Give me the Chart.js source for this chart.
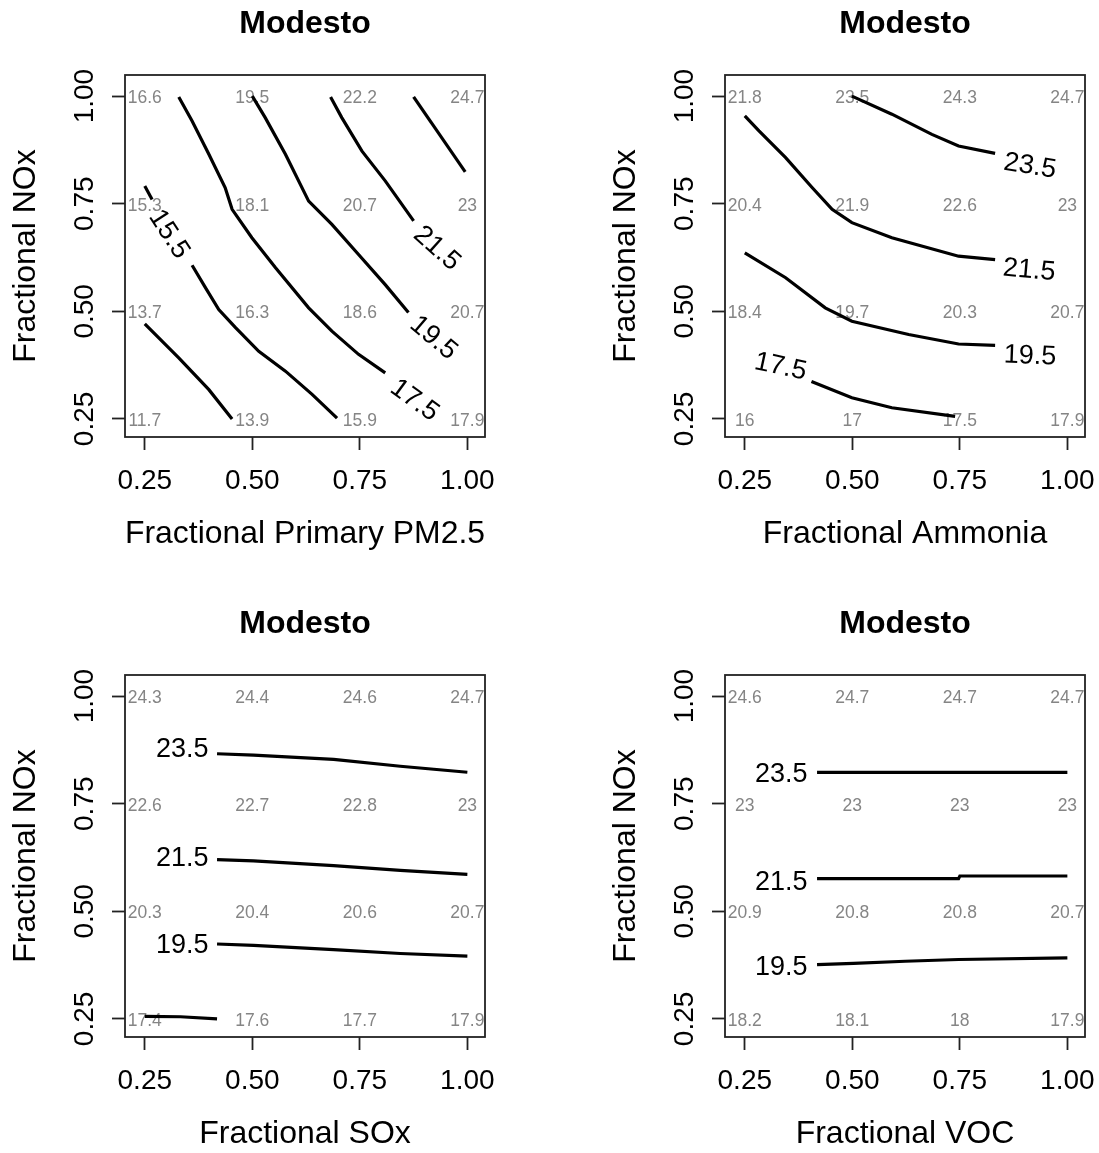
<!DOCTYPE html>
<html>
<head>
<meta charset="utf-8">
<script src="https://cdn.jsdelivr.net/npm/chart.js@4.4.1/dist/chart.umd.min.js"></script>
<style>
  body { margin: 0; background: #fff; }
  canvas.panel { position: absolute; }
</style>
</head>
<body>
<canvas id="pm25" class="panel" width="499" height="553" style="left:0;top:0"></canvas>
<canvas id="ammonia" class="panel" width="499" height="553" style="left:600px;top:0"></canvas>
<canvas id="sox" class="panel" width="499" height="553" style="left:0;top:600px"></canvas>
<canvas id="voc" class="panel" width="499" height="553" style="left:600px;top:600px"></canvas>
<script>
// grid where the model was run (both axes)
const gridX = [0.25, 0.5, 0.75, 1.0];
const gridY = [0.25, 0.5, 0.75, 1.0];
const tickLabels = ['0.25', '0.50', '0.75', '1.00'];

// grid values, one row per NOx level (0.25 -> 1.00)
const pm25Values = [[11.7, 13.9, 15.9, 17.9], [13.7, 16.3, 18.6, 20.7], [15.3, 18.1, 20.7, 23], [16.6, 19.5, 22.2, 24.7]];
const ammoniaValues = [[16, 17, 17.5, 17.9], [18.4, 19.7, 20.3, 20.7], [20.4, 21.9, 22.6, 23], [21.8, 23.5, 24.3, 24.7]];
const soxValues = [[17.4, 17.6, 17.7, 17.9], [20.3, 20.4, 20.6, 20.7], [22.6, 22.7, 22.8, 23], [24.3, 24.4, 24.6, 24.7]];
const vocValues = [[18.2, 18.1, 18, 17.9], [20.9, 20.8, 20.8, 20.7], [23, 23, 23, 23], [24.6, 24.7, 24.7, 24.7]];

// contour lines, [x, y] points
const pm25Lines = [
  [[0.25, 0.471], [0.329, 0.392], [0.399, 0.318], [0.453, 0.25]],
  [[0.25, 0.791], [0.267, 0.76]],
  [[0.36, 0.607], [0.391, 0.555], [0.422, 0.504], [0.461, 0.462], [0.515, 0.407], [0.577, 0.361], [0.639, 0.307], [0.697, 0.252]],
  [[0.329, 0.998], [0.36, 0.942], [0.399, 0.865], [0.437, 0.787], [0.453, 0.737], [0.499, 0.671], [0.554, 0.601], [0.631, 0.508], [0.685, 0.454], [0.747, 0.4], [0.809, 0.357]],
  [[0.5, 1.0], [0.53, 0.95], [0.577, 0.865], [0.631, 0.756], [0.685, 0.702], [0.747, 0.632], [0.809, 0.562], [0.863, 0.497]],
  [[0.682, 0.998], [0.708, 0.95], [0.755, 0.872], [0.809, 0.803], [0.875, 0.71]],
  [[0.875, 0.998], [0.995, 0.824]]
];
const ammoniaLines = [
  [[0.405, 0.337], [0.499, 0.299], [0.592, 0.276], [0.739, 0.256]],
  [[0.25, 0.636], [0.345, 0.578], [0.437, 0.508], [0.499, 0.477], [0.631, 0.446], [0.747, 0.424], [0.832, 0.421]],
  [[0.25, 0.954], [0.283, 0.919], [0.345, 0.857], [0.407, 0.787], [0.453, 0.737], [0.499, 0.706], [0.592, 0.671], [0.747, 0.628], [0.832, 0.62]],
  [[0.499, 1.0], [0.592, 0.958], [0.685, 0.911], [0.747, 0.884], [0.832, 0.867]]
];
const soxLines = [
  [[0.25, 0.256], [0.333, 0.255], [0.418, 0.25]],
  [[0.418, 0.424], [0.503, 0.421], [0.689, 0.411], [0.844, 0.402], [1.0, 0.396]],
  [[0.418, 0.62], [0.503, 0.617], [0.689, 0.606], [0.844, 0.595], [1.0, 0.586]],
  [[0.418, 0.866], [0.503, 0.863], [0.689, 0.853], [0.844, 0.837], [1.0, 0.823]]
];
const vocLines = [
  [[0.418, 0.376], [0.503, 0.379], [0.623, 0.384], [0.747, 0.388], [1.0, 0.392]],
  [[0.418, 0.576], [0.747, 0.576], [0.75, 0.582], [1.0, 0.582]],
  [[0.418, 0.823], [1.0, 0.823]]
];

// contour level labels (text, x, y, angle in degrees)
const pm25Labels = [
  {text: '15.5', x: 0.306, y: 0.679, angle: 57},
  {text: '17.5', x: 0.877, y: 0.293, angle: 36},
  {text: '19.5', x: 0.921, y: 0.438, angle: 40},
  {text: '21.5', x: 0.929, y: 0.646, angle: 42}
];
const ammoniaLabels = [
  {text: '17.5', x: 0.333, y: 0.371, angle: 12},
  {text: '19.5', x: 0.913, y: 0.396, angle: 2},
  {text: '21.5', x: 0.911, y: 0.595, angle: 5},
  {text: '23.5', x: 0.913, y: 0.837, angle: 9}
];
const soxLabels = [
  {text: '19.5', x: 0.337, y: 0.421, angle: 0},
  {text: '21.5', x: 0.337, y: 0.622, angle: 0},
  {text: '23.5', x: 0.337, y: 0.876, angle: 0}
];
const vocLabels = [
  {text: '19.5', x: 0.335, y: 0.369, angle: 0},
  {text: '21.5', x: 0.335, y: 0.566, angle: 0},
  {text: '23.5', x: 0.335, y: 0.817, angle: 0}
];

const FONT = '"Liberation Sans", Arial, sans-serif';
Chart.defaults.font.family = FONT;
Chart.defaults.color = '#000';

function makePanel(id, xTitle, values, lines, labels) {
  // grid numbers under the lines, contour labels, box and rotated y labels
  const contourText = {
    id: 'contourText',
    beforeDatasetsDraw(chart) {
      const {ctx, scales: {x, y}} = chart;
      ctx.save();
      ctx.font = '17.5px ' + FONT;
      ctx.fillStyle = '#858585';
      ctx.textAlign = 'center';
      ctx.textBaseline = 'middle';
      values.forEach((row, j) => {
        row.forEach((v, i) => {
          ctx.fillText(String(v), x.getPixelForValue(gridX[i]), y.getPixelForValue(gridY[j]) + 2);
        });
      });
      ctx.restore();
    },
    afterDatasetsDraw(chart) {
      const {ctx, scales: {x, y}} = chart;
      ctx.save();
      ctx.font = '27px ' + FONT;
      ctx.fillStyle = '#000';
      ctx.textAlign = 'center';
      ctx.textBaseline = 'middle';
      labels.forEach(l => {
        ctx.save();
        ctx.translate(x.getPixelForValue(l.x), y.getPixelForValue(l.y));
        ctx.rotate(l.angle * Math.PI / 180);
        ctx.fillText(l.text, 0, 0);
        ctx.restore();
      });
      ctx.restore();
    },
    afterDraw(chart) {
      const {ctx, chartArea, scales: {y}} = chart;
      ctx.save();
      ctx.strokeStyle = '#222';
      ctx.lineWidth = 1.8;
      ctx.strokeRect(chartArea.left, chartArea.top, chartArea.right - chartArea.left, chartArea.bottom - chartArea.top);
      ctx.font = '28px ' + FONT;
      ctx.fillStyle = '#000';
      ctx.textAlign = 'center';
      ctx.textBaseline = 'middle';
      gridY.forEach((v, i) => {
        ctx.save();
        ctx.translate(y.right - 40, y.getPixelForValue(v));
        ctx.rotate(-Math.PI / 2);
        ctx.fillText(tickLabels[i], 0, 0);
        ctx.restore();
      });
      ctx.restore();
    }
  };

  const tickGrid = {
    drawOnChartArea: false,
    drawTicks: true,
    tickLength: 13,
    tickColor: '#222',
    tickWidth: 1.8
  };

  return new Chart(document.getElementById(id), {
    type: 'scatter',
    data: {
      datasets: lines.map(seg => ({
        data: seg.map(p => ({x: p[0], y: p[1]})),
        showLine: true,
        borderColor: '#000',
        borderWidth: 3.2,
        pointRadius: 0,
        tension: 0
      }))
    },
    options: {
      responsive: false,
      animation: false,
      layout: {padding: {left: 0, right: 14, top: 0, bottom: 0}},
      plugins: {
        legend: {display: false},
        tooltip: {enabled: false},
        title: {
          display: true,
          text: 'Modesto',
          fullSize: false,
          color: '#000',
          font: {size: 32, weight: 'bold'},
          padding: {top: 5, bottom: 31.6}
        }
      },
      scales: {
        x: {
          type: 'linear',
          min: 0.204,
          max: 1.041,
          afterBuildTicks: s => { s.ticks = gridX.map(v => ({value: v})); },
          afterFit: s => {
            s.height = 116;
            s.paddingLeft = 0;
            s.paddingRight = 0;
          },
          grid: tickGrid,
          border: {display: false},
          ticks: {
            callback: (v, i) => tickLabels[i],
            font: {size: 28},
            color: '#000',
            padding: 14,
            maxRotation: 0,
            autoSkip: false
          },
          title: {display: true, text: xTitle, color: '#000', font: {size: 32}, padding: {top: 0, bottom: 0}}
        },
        y: {
          type: 'linear',
          min: 0.208,
          max: 1.049,
          afterBuildTicks: s => { s.ticks = gridY.map(v => ({value: v})); },
          afterFit: s => {
            s.width = 125;
            s.paddingTop = 0;
            s.paddingBottom = 0;
          },
          grid: tickGrid,
          border: {display: false},
          ticks: {
            callback: (v, i) => tickLabels[i],
            color: 'rgba(0,0,0,0)',
            autoSkip: false
          },
          title: {display: true, text: 'Fractional NOx', color: '#000', font: {size: 32}, padding: {top: 7, bottom: 0}}
        }
      }
    },
    plugins: [contourText]
  });
}

makePanel('pm25', 'Fractional Primary PM2.5', pm25Values, pm25Lines, pm25Labels);
makePanel('ammonia', 'Fractional Ammonia', ammoniaValues, ammoniaLines, ammoniaLabels);
makePanel('sox', 'Fractional SOx', soxValues, soxLines, soxLabels);
makePanel('voc', 'Fractional VOC', vocValues, vocLines, vocLabels);
</script>
</body>
</html>
